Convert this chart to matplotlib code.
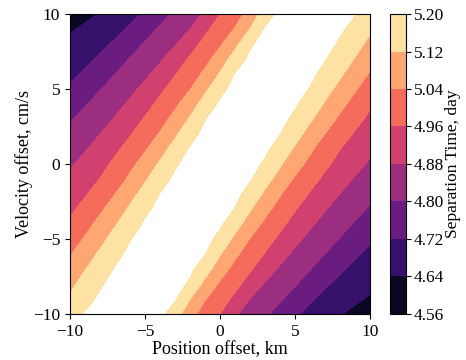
import matplotlib
matplotlib.use('Agg')
import matplotlib.pyplot as plt
import numpy as np

plt.rcParams['font.family'] = ['Liberation Serif', 'DejaVu Serif']
plt.rcParams['font.size'] = 12.5
plt.rcParams['axes.labelsize'] = 13

# grid of offsets
position_km = list(range(-10, 11))
velocity_cms = list(range(-10, 11))

# separation time (day), one row per velocity offset (-10 ... 10 cm/s),
# one column per position offset (-10 ... 10 km)
sep_time = [
    [5.159, 5.205, 5.235, 5.271, 5.294, 5.259, 5.223, 5.159, 5.066, 5.008, 4.960, 4.889, 4.848, 4.812, 4.771, 4.729, 4.699, 4.672, 4.645, 4.619, 4.592],
    [5.131, 5.174, 5.214, 5.249, 5.284, 5.280, 5.245, 5.210, 5.121, 5.044, 4.995, 4.943, 4.879, 4.844, 4.809, 4.769, 4.729, 4.701, 4.678, 4.654, 4.630],
    [5.101, 5.146, 5.190, 5.227, 5.262, 5.298, 5.267, 5.232, 5.189, 5.097, 5.029, 4.982, 4.929, 4.874, 4.840, 4.806, 4.767, 4.729, 4.703, 4.682, 4.661],
    [5.067, 5.116, 5.161, 5.205, 5.241, 5.276, 5.289, 5.253, 5.218, 5.155, 5.075, 5.016, 4.969, 4.917, 4.870, 4.836, 4.803, 4.766, 4.729, 4.705, 4.686],
    [5.033, 5.082, 5.131, 5.178, 5.219, 5.254, 5.289, 5.275, 5.240, 5.205, 5.125, 5.055, 5.003, 4.956, 4.907, 4.865, 4.833, 4.799, 4.764, 4.729, 4.706],
    [5.002, 5.047, 5.097, 5.147, 5.196, 5.232, 5.268, 5.297, 5.262, 5.226, 5.179, 5.102, 5.037, 4.990, 4.944, 4.898, 4.861, 4.829, 4.797, 4.763, 4.729],
    [4.970, 5.014, 5.061, 5.113, 5.164, 5.211, 5.246, 5.281, 5.283, 5.248, 5.213, 5.152, 5.082, 5.024, 4.978, 4.933, 4.891, 4.857, 4.826, 4.794, 4.762],
    [4.945, 4.982, 5.026, 5.077, 5.130, 5.183, 5.224, 5.259, 5.295, 5.270, 5.235, 5.198, 5.127, 5.063, 5.011, 4.965, 4.924, 4.884, 4.853, 4.823, 4.792],
    [4.922, 4.953, 4.994, 5.039, 5.093, 5.148, 5.202, 5.238, 5.273, 5.292, 5.256, 5.221, 5.173, 5.106, 5.045, 4.998, 4.954, 4.916, 4.879, 4.849, 4.820],
    [4.897, 4.929, 4.961, 4.996, 5.054, 5.110, 5.168, 5.216, 5.251, 5.286, 5.278, 5.243, 5.208, 5.149, 5.088, 5.031, 4.986, 4.945, 4.909, 4.874, 4.846],
    [4.870, 4.902, 4.936, 4.974, 5.019, 5.071, 5.129, 5.190, 5.229, 5.265, 5.300, 5.265, 5.229, 5.190, 5.129, 5.071, 5.019, 4.974, 4.936, 4.902, 4.870],
    [4.846, 4.874, 4.909, 4.945, 4.986, 5.031, 5.088, 5.149, 5.208, 5.243, 5.278, 5.286, 5.251, 5.216, 5.168, 5.110, 5.054, 4.996, 4.961, 4.929, 4.897],
    [4.820, 4.849, 4.879, 4.916, 4.954, 4.998, 5.045, 5.106, 5.173, 5.221, 5.256, 5.292, 5.273, 5.238, 5.202, 5.148, 5.093, 5.039, 4.994, 4.953, 4.922],
    [4.792, 4.823, 4.853, 4.884, 4.924, 4.965, 5.011, 5.063, 5.127, 5.198, 5.235, 5.270, 5.295, 5.259, 5.224, 5.183, 5.130, 5.077, 5.026, 4.982, 4.945],
    [4.762, 4.794, 4.826, 4.857, 4.891, 4.933, 4.978, 5.024, 5.082, 5.152, 5.213, 5.248, 5.283, 5.281, 5.246, 5.211, 5.164, 5.113, 5.061, 5.014, 4.970],
    [4.729, 4.763, 4.797, 4.829, 4.861, 4.898, 4.944, 4.990, 5.037, 5.102, 5.179, 5.226, 5.262, 5.297, 5.268, 5.232, 5.196, 5.147, 5.097, 5.047, 5.002],
    [4.706, 4.729, 4.764, 4.799, 4.833, 4.865, 4.907, 4.956, 5.003, 5.055, 5.125, 5.205, 5.240, 5.275, 5.289, 5.254, 5.219, 5.178, 5.131, 5.082, 5.033],
    [4.686, 4.705, 4.729, 4.766, 4.803, 4.836, 4.870, 4.917, 4.969, 5.016, 5.075, 5.155, 5.218, 5.253, 5.289, 5.276, 5.241, 5.205, 5.161, 5.116, 5.067],
    [4.661, 4.682, 4.703, 4.729, 4.767, 4.806, 4.840, 4.874, 4.929, 4.982, 5.029, 5.097, 5.189, 5.232, 5.267, 5.298, 5.262, 5.227, 5.190, 5.146, 5.101],
    [4.630, 4.654, 4.678, 4.701, 4.729, 4.769, 4.809, 4.844, 4.879, 4.943, 4.995, 5.044, 5.121, 5.210, 5.245, 5.280, 5.284, 5.249, 5.214, 5.174, 5.131],
    [4.592, 4.619, 4.645, 4.672, 4.699, 4.729, 4.771, 4.812, 4.848, 4.889, 4.960, 5.008, 5.066, 5.159, 5.223, 5.259, 5.294, 5.271, 5.235, 5.205, 5.159],
]

levels = [4.56, 4.64, 4.72, 4.80, 4.88, 4.96, 5.04, 5.12, 5.20]

X, V = np.meshgrid(position_km, velocity_cms)
T = np.array(sep_time)

fig = plt.figure(figsize=(4.66, 3.6), dpi=100)
ax = fig.add_axes([0.150, 0.128, 0.644, 0.833])
cax = fig.add_axes([0.836, 0.128, 0.035, 0.833])

cs = ax.contourf(X, V, T, levels=levels, cmap='magma')
ax.set_xlim(-10, 10)
ax.set_ylim(-10, 10)
ax.set_xticks([-10, -5, 0, 5, 10])
ax.set_yticks([-10, -5, 0, 5, 10])
ax.set_xlabel('Position offset, km', labelpad=1)
ax.set_ylabel('Velocity offset, cm/s', labelpad=0)

cb = fig.colorbar(cs, cax=cax, ticks=levels)
cb.ax.tick_params(pad=2)
cb.ax.set_yticklabels(['%.2f' % l for l in levels])
cb.set_label('Separation Time, day', labelpad=1, fontsize=12.5)

fig.savefig('out.png', dpi=100)
